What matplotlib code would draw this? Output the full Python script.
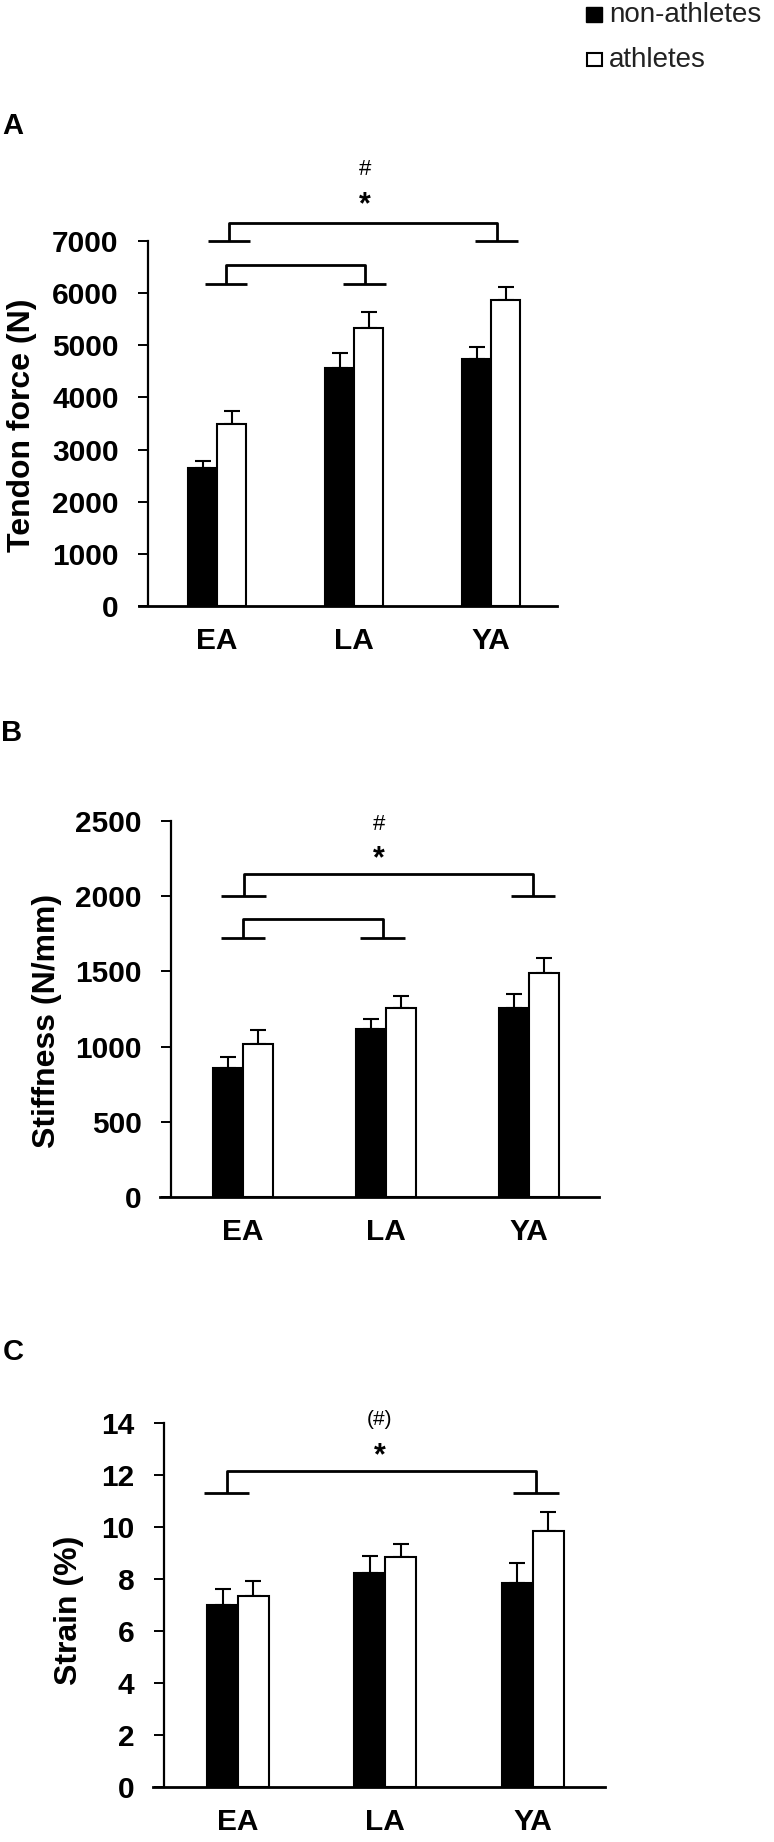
import matplotlib
matplotlib.use("Agg")
import matplotlib.pyplot as plt
from matplotlib.patches import Rectangle

plt.rcParams["font.family"] = ["Liberation Sans", "DejaVu Sans"]
plt.rcParams["font.weight"] = "bold"

# data
groups = ["EA", "LA", "YA"]
series = ["non-athletes", "athletes"]

force_non = [2650, 4560, 4730]
force_non_err = [130, 290, 240]
force_ath = [3490, 5340, 5870]
force_ath_err = [250, 290, 250]

stiff_non = [860, 1115, 1255]
stiff_non_err = [70, 70, 95]
stiff_ath = [1020, 1255, 1490]
stiff_ath_err = [90, 80, 100]

strain_non = [7.0, 8.25, 7.85]
strain_non_err = [0.63, 0.64, 0.77]
strain_ath = [7.33, 8.85, 9.86]
strain_ath_err = [0.60, 0.48, 0.73]

W, H = 774, 1842
fig = plt.figure(figsize=(W / 100, H / 100), dpi=100)


def px_axes(left, right, top, bottom):
    return fig.add_axes([left / W, 1 - bottom / H, (right - left) / W, (bottom - top) / H])


def bracket(ax, xl, xr, yf, yt):
    kw = dict(color="black", lw=2, clip_on=False, solid_capstyle="butt")
    ax.plot([xl - 0.155, xl + 0.155], [yf, yf], **kw)
    ax.plot([xl, xl, xr, xr], [yf, yt, yt, yf], **kw)
    ax.plot([xr - 0.155, xr + 0.155], [yf, yf], **kw)


def mark(ax, x, y, s, size, weight, frac):
    # frac = glyph centre above baseline, in em
    ax.annotate(s, (x, y), xytext=(0, -frac * size), textcoords="offset points",
                ha="center", va="baseline", fontsize=size, fontweight=weight,
                annotation_clip=False)


def panel(box, xlim, ylim, step, non, non_err, ath, ath_err, ylabel, ylab_pos):
    ax = px_axes(*box)
    x = [1, 2, 3]
    w = 0.21
    xb = [i - w / 2 for i in x]
    xw = [i + w / 2 for i in x]
    ax.bar(xb, non, w, color="black", edgecolor="black", lw=1.5, zorder=2)
    ax.bar(xw, ath, w, color="white", edgecolor="black", lw=1.5, zorder=2)
    ax.errorbar(xb, non, yerr=[[0, 0, 0], non_err], fmt="none", ecolor="black",
                elinewidth=1.5, capsize=5.8, capthick=1.5, zorder=1)
    ax.errorbar(xw, ath, yerr=[[0, 0, 0], ath_err], fmt="none", ecolor="black",
                elinewidth=1.5, capsize=5.8, capthick=1.5, zorder=1)
    ax.set_xlim(*xlim)
    ax.set_ylim(0, ylim)
    ax.set_yticks([step * k for k in range(int(round(ylim / step)) + 1)])
    ax.set_xticks(x)
    ax.set_xticklabels(groups)
    ax.spines["top"].set_visible(False)
    ax.spines["right"].set_visible(False)
    ax.spines["left"].set_position(("data", 0.495))
    ax.spines["left"].set_linewidth(1.6)
    ax.spines["bottom"].set_linewidth(2)
    ax.tick_params(axis="y", direction="out", length=7, width=1.4, pad=14, labelsize=21.5)
    ax.tick_params(axis="x", length=0, pad=15, labelsize=21.5)
    fig.text(ylab_pos[0] / W, 1 - ylab_pos[1] / H, ylabel, rotation=90,
             ha="center", va="center", fontsize=23, fontweight="bold")
    return ax


# A
axA = panel((139, 557, 241, 606), (0.43, 3.48), 7000, 1000,
            force_non, force_non_err, force_ath, force_ath_err,
            "Tendon force (N)", (22, 425))
bracket(axA, 1.088, 3.04, 7000, 7341)
bracket(axA, 1.063, 2.077, 6180, 6534)
mark(axA, 2.077, 8411, "#", 16, "normal", 0.36)
mark(axA, 2.077, 7867, "*", 22, "bold", 0.57)

# B
axB = panel((160, 599, 821, 1197), (0.42, 3.49), 2500, 500,
            stiff_non, stiff_non_err, stiff_ath, stiff_ath_err,
            "Stiffness (N/mm)", (47, 1021))
bracket(axB, 1.004, 3.03, 2000, 2148)
bracket(axB, 1.0, 1.977, 1722, 1851)
mark(axB, 1.95, 2491, "#", 16, "normal", 0.36)
mark(axB, 1.95, 2309, "*", 22, "bold", 0.57)

# C
axC = panel((152.5, 605, 1423, 1787), (0.42, 3.49), 14, 2,
            strain_non, strain_non_err, strain_ath, strain_ath_err,
            "Strain (%)", (69, 1610))
bracket(axC, 0.923, 3.02, 11.32, 12.17)
mark(axC, 1.96, 14.13, "(#)", 15, "normal", 0.26)
mark(axC, 1.96, 13.07, "*", 22, "bold", 0.57)

# panel letters
for lab, (px, py) in zip(["A", "B", "C"], [(13, 126), (12, 733), (13, 1352)]):
    fig.text(px / W, 1 - py / H, lab, ha="center", va="center", fontsize=21, fontweight="bold")

# legend
fig.add_artist(Rectangle((586 / W, 1 - 22 / H), 16 / W, 15 / H, transform=fig.transFigure,
                         facecolor="black", edgecolor="black", lw=1))
fig.add_artist(Rectangle((587 / W, 1 - 66 / H), 15 / W, 13 / H, transform=fig.transFigure,
                         facecolor="white", edgecolor="black", lw=1.5))
fig.text(609 / W, 1 - 15 / H, series[0], ha="left", va="center", fontsize=20,
         fontweight="normal", color="#222222")
fig.text(609 / W, 1 - 60 / H, series[1], ha="left", va="center", fontsize=20,
         fontweight="normal", color="#222222")

fig.savefig("out.png", dpi=100)
